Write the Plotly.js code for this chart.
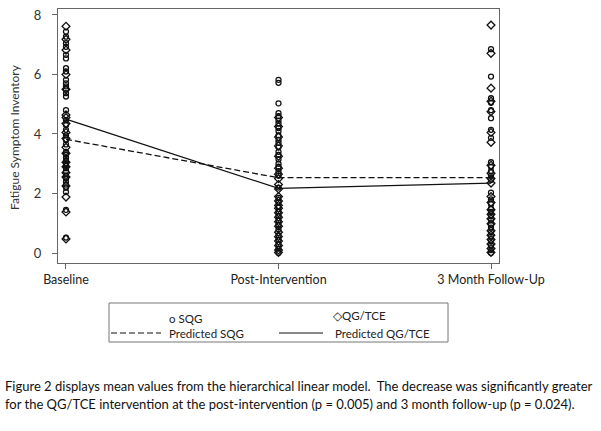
<!DOCTYPE html>
<html>
<head>
<meta charset="utf-8">
<script src="https://cdn.plot.ly/plotly-3.0.1.min.js"></script>
<style>html,body{margin:0;padding:0;background:#fff;}#chart{width:601px;height:431px;}</style>
</head>
<body>
<div id="chart"></div>
<script>
// ---- data ----
const categories = ["Baseline", "Post-Intervention", "3 Month Follow-Up"];
const predictedSQG = [3.82, 2.53, 2.53];
const predictedQGTCE = [4.5, 2.17, 2.35];

const sqgBaseline = [7.44, 7.27, 7.05, 6.93, 6.66, 6.54, 6.21, 6.1, 5.82, 5.7, 5.6, 5.5, 5.37, 5.26, 4.8, 4.47, 4.3, 4.14, 3.95, 3.8, 3.65, 3.4, 3.3, 3.2, 3.1, 3.0, 2.95, 2.85, 2.75, 2.6, 2.5, 2.4, 2.3, 2.2, 2.05, 1.45, 0.52];
const sqgPost = [5.82, 5.72, 5.03, 4.7, 4.6, 4.45, 4.35, 4.2, 4.1, 3.95, 3.8, 3.7, 3.55, 3.4, 3.3, 3.15, 3.0, 2.9, 2.75, 2.6, 2.2, 1.85, 1.7, 1.55, 1.4, 1.25, 1.1, 0.95, 0.8, 0.6, 0.45, 0.3, 0.15, 0.0];
const sqgFollow = [6.85, 5.93, 5.2, 5.05, 4.8, 4.53, 4.14, 3.87, 3.05, 2.9, 2.75, 2.6, 2.45, 2.03, 1.8, 1.65, 1.5, 1.38, 1.25, 1.1, 0.95, 0.85, 0.7, 0.55, 0.4, 0.25, 0.1, 0.0];

const qgBaseline = [7.62, 7.18, 6.82, 6.0, 5.5, 4.64, 4.55, 4.35, 4.05, 3.85, 3.55, 3.35, 3.05, 2.9, 2.7, 2.55, 2.25, 1.88, 1.38, 0.47];
const qgPost = [4.55, 4.25, 3.9, 3.6, 3.25, 2.85, 2.65, 2.5, 2.3, 2.15, 1.9, 1.75, 1.6, 1.5, 1.35, 1.2, 1.05, 0.9, 0.7, 0.55, 0.4, 0.25, 0.1, 0.02];
const qgFollow = [7.66, 6.71, 5.54, 5.1, 4.75, 4.05, 3.72, 2.95, 2.68, 2.5, 2.35, 1.9, 1.7, 1.45, 1.3, 1.15, 0.98, 0.75, 0.6, 0.45, 0.3, 0.15, 0.02];

const yTicks = [0, 2, 4, 6, 8];
const yTitle = "Fatigue Symptom Inventory";
const legendLabels = ["o SQG", "\u25C7QG/TCE", "Predicted SQG", "Predicted QG/TCE"];
const caption1 = "Figure 2 displays mean values from the hierarchical linear model.  The decrease was significantly greater";
const caption2 = "for the QG/TCE intervention at the post-intervention (p = 0.005) and 3 month follow-up (p = 0.024).";

// ---- helpers ----
function column(cat, vals) { return { x: vals.map(() => cat), y: vals }; }
function merge(parts) {
  return { x: [].concat(...parts.map(p => p.x)), y: [].concat(...parts.map(p => p.y)) };
}
const sqg = merge([column(categories[0], sqgBaseline), column(categories[1], sqgPost), column(categories[2], sqgFollow)]);
const qg = merge([column(categories[0], qgBaseline), column(categories[1], qgPost), column(categories[2], qgFollow)]);

const W = 601, H = 431;
const L = 58, R = 499, T = 9, B = 263;
const px = x => (x - L) / (R - L);
const py = y => (B - y) / (B - T);

const font = "Lato, 'Open Sans', sans-serif";

const traces = [
  { type: "scatter", mode: "markers", x: sqg.x, y: sqg.y, name: "SQG",
    marker: { symbol: "circle-open", size: 5, color: "#111", line: { width: 1.3, color: "#111" } }, cliponaxis: false },
  { type: "scatter", mode: "markers", x: qg.x, y: qg.y, name: "QG/TCE",
    marker: { symbol: "diamond-open", size: 6, color: "#111", line: { width: 1.3, color: "#111" } }, cliponaxis: false },
  { type: "scatter", mode: "lines", x: categories, y: predictedSQG, name: "Predicted SQG",
    line: { color: "#111", width: 1.3, dash: "6px,3px" } },
  { type: "scatter", mode: "lines", x: categories, y: predictedQGTCE, name: "Predicted QG/TCE",
    line: { color: "#111", width: 1.3 } }
];

const shapes = [
  { type: "rect", xref: "paper", yref: "paper", x0: px(109), x1: px(448), y0: py(303), y1: py(342),
    line: { color: "#777", width: 1 }, fillcolor: "rgba(0,0,0,0)" },
  { type: "line", xref: "paper", yref: "paper", x0: px(111), x1: px(161), y0: py(333), y1: py(333),
    line: { color: "#111", width: 1.2, dash: "6px,3px" } },
  { type: "line", xref: "paper", yref: "paper", x0: px(279), x1: px(323), y0: py(333), y1: py(333),
    line: { color: "#111", width: 1.2 } }
];

const ann = (text, x, y, opts) => Object.assign({
  text, xref: "paper", yref: "paper", x: px(x), y: py(y), xanchor: "left", yanchor: "middle",
  showarrow: false, font: { family: font, size: 11.5, color: "#222" }
}, opts || {});

const annotations = [
  ann(legendLabels[0], 167, 318),
  ann(legendLabels[1], 331, 315),
  ann(legendLabels[2], 167, 333),
  ann(legendLabels[3], 333, 333),
  ann(caption1, 3, 386, { font: { family: font, size: 13, color: "#111" } }),
  ann(caption2, 3, 404, { font: { family: font, size: 13, color: "#111" } }),
  ann(yTitle, 14, 137, { textangle: -90, xanchor: "center", font: { family: font, size: 12, color: "#333" } })
];

const layout = {
  width: W, height: H,
  margin: { l: L, r: W - R, t: T, b: H - B, pad: 0 },
  paper_bgcolor: "#fff", plot_bgcolor: "#fff",
  showlegend: false,
  xaxis: {
    type: "category", categoryorder: "array", categoryarray: categories,
    range: [-0.0376, 2.0376], showgrid: false, zeroline: false,
    showline: true, mirror: true, linecolor: "#666", linewidth: 1,
    ticks: "outside", ticklen: 5, tickcolor: "#666",
    tickfont: { family: font, size: 12.5, color: "#222" }
  },
  yaxis: {
    range: [-0.336, 8.2], tickvals: yTicks, showgrid: false, zeroline: false,
    showline: true, mirror: true, linecolor: "#666", linewidth: 1,
    ticks: "outside", ticklen: 5, tickcolor: "#666", ticklabelstandoff: 8,
    tickfont: { family: font, size: 13, color: "#333" }
  },
  shapes, annotations
};

Plotly.newPlot("chart", traces, layout, { displayModeBar: false, staticPlot: true });
</script>
</body>
</html>
